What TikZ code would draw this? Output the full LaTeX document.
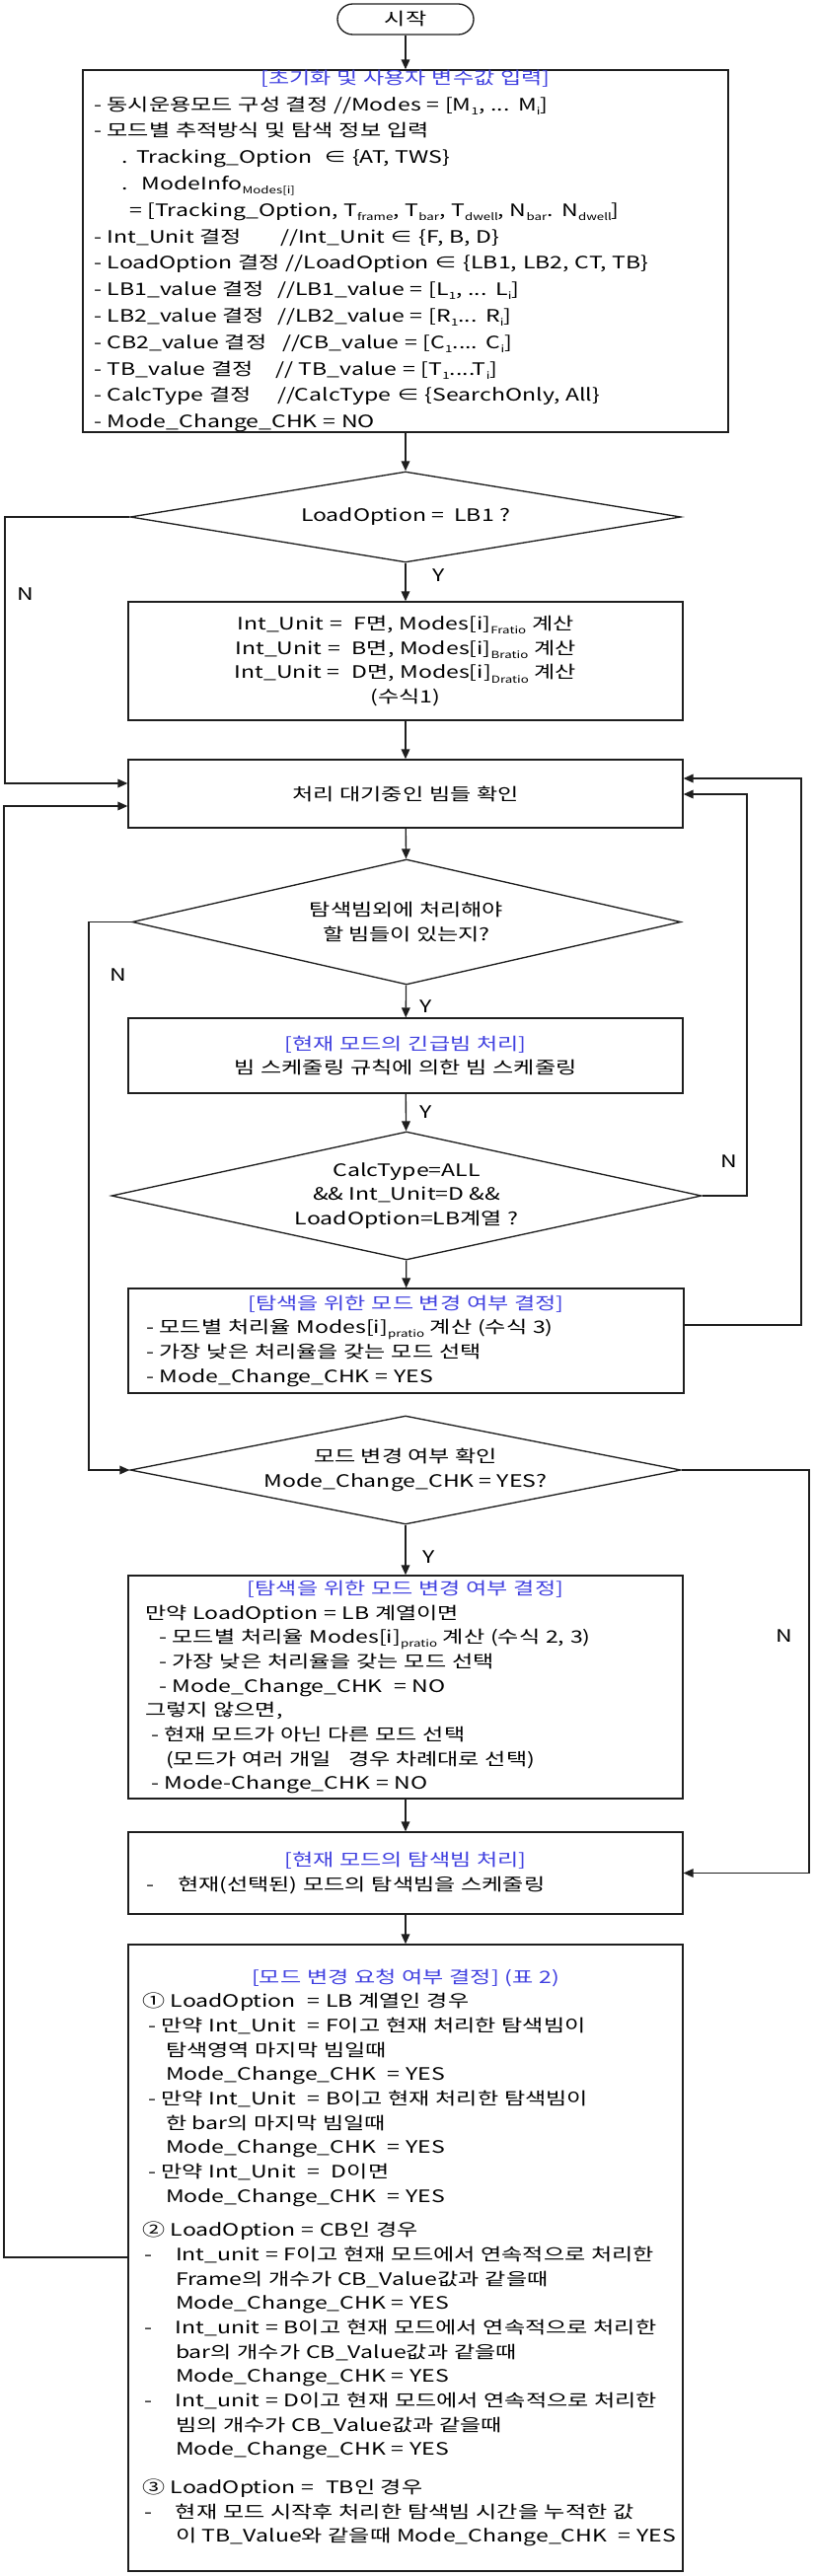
\documentclass[tikz,border=0pt]{standalone}
\usepackage{fontspec}
\setmainfont{Noto Sans CJK KR}[FakeStretch=1.33]
\usetikzlibrary{shapes.geometric,arrows.meta}
\newlength\pu
\setlength\pu{0.75pt}
\newlength\tw
\definecolor{tblue}{RGB}{64,64,224}
\definecolor{lin}{RGB}{30,30,30}
\newcommand\lsb[1]{\raisebox{-0.45ex}{\fontsize{7.5pt}{7.5pt}\selectfont #1}}
\newcommand\ind[1]{\hspace*{#1\pu}}
\newcommand\tabat[2]{\makebox[#1\pu][l]{#2}}
\newcommand\tabw[2]{\makebox[\dimexpr\tw-#1\pu\relax][l]{#2}}
\newcommand\ttlline[2]{\makebox[#1\pu][c]{\color{tblue}#2}}
\newcommand\tline[1]{\mbox{#1}}
\tikzset{
  every node/.style={font=\fontsize{13pt}{18.5pt}\selectfont, text=black},
  box/.style={draw=lin, line width=1pt, rectangle, inner ysep=0pt},
  term/.style={draw=lin, line width=1pt, rounded corners=15.5\pu, minimum width=138\pu, minimum height=31\pu, inner sep=0pt},
  dia/.style={draw=lin, line width=1pt, diamond, inner sep=0pt, align=center},
  arr/.style={draw=lin, line width=1pt, -{Triangle[length=7.5pt,width=6.5pt]}},
  lbl/.style={inner sep=0pt}
}
\begin{document}
\begin{tikzpicture}[x=0.75pt,y=-0.75pt]
\useasboundingbox (0,0) rectangle (827,2611);

\node[term] (start) at (411,19.5) {시작};

\node[box, minimum width=654\pu, minimum height=351\pu, inner xsep=11\pu, text width=632\pu, align=left, font=\fontsize{13pt}{20.1pt}\selectfont\settowidth\tw{- LoadOption 결정 }] (init) at (411,254.5) {%
\ttlline{632}{[초기화 및 사용자 변수값 입력]}\\
\tline{- 동시운용모드 구성 결정 //Modes = [M\lsb{1}, ... M\lsb{i}]}\\
\tline{- 모드별 추적방식 및 탐색 정보 입력}\\
\tline{\ind{28}. Tracking\_Option \ ∈ \{AT, TWS\}}\\
\tline{\ind{28}. \ ModeInfo\lsb{Modes[i]}}\\
\tline{\ind{36}= [Tracking\_Option, T\lsb{frame}, T\lsb{bar}, T\lsb{dwell}, N\lsb{bar}. N\lsb{dwell}]}\\
\tline{\tabw{4}{- Int\_Unit 결정}//Int\_Unit ∈ \{F, B, D\}}\\
\tline{- LoadOption 결정 //LoadOption ∈ \{LB1, LB2, CT, TB\}}\\
\tline{\tabw{7}{- LB1\_value 결정}//LB1\_value = [L\lsb{1}, ... L\lsb{i}]}\\
\tline{\tabw{7}{- LB2\_value 결정}//LB2\_value = [R\lsb{1}... R\lsb{i}]}\\
\tline{\tabw{2}{- CB2\_value 결정}//CB\_value = [C\lsb{1}.... C\lsb{i}]}\\
\tline{\tabw{9}{- TB\_value 결정}// TB\_value = [T\lsb{1}....T\lsb{i}]}\\
\tline{\tabw{7}{- CalcType 결정}//CalcType ∈ \{SearchOnly, All\}}\\
\tline{- Mode\_Change\_CHK = NO}};

\node[dia, minimum width=558\pu, minimum height=92\pu, aspect=6.07] (d1) at (411,524) {LoadOption = \ LB1 ?};

\node[box, minimum width=562\pu, minimum height=120\pu, text width=540\pu, align=center] (ratio) at (411,670) {%
Int\_Unit = \ F면, Modes[i]\lsb{Fratio} 계산\\
Int\_Unit = \ B면, Modes[i]\lsb{Bratio} 계산\\
Int\_Unit = \ D면, Modes[i]\lsb{Dratio} 계산\\
(수식1)};

\node[box, minimum width=562\pu, minimum height=69\pu, text width=540\pu, align=center] (wait) at (411,804.5) {처리 대기중인 빔들 확인};

\node[dia, minimum width=556\pu, minimum height=127\pu, aspect=4.38] (d2) at (412,934.5) {탐색빔외에 처리해야\\할 빔들이 있는지?};

\node[box, minimum width=562\pu, minimum height=76\pu, text width=540\pu, align=center] (urgent) at (411,1070) {%
{\color{tblue}[현재 모드의 긴급빔 처리]}\\
빔 스케줄링 규칙에 의한 빔 스케줄링};

\node[dia, minimum width=598\pu, minimum height=130\pu, aspect=4.6] (d3) at (412,1212) {CalcType=ALL\\\&\& Int\_Unit=D \&\&\\LoadOption=LB계열 ?};

\node[box, minimum width=563\pu, minimum height=106\pu, inner xsep=18\pu, text width=527\pu, align=left] (sel1) at (411.5,1359) {%
\ttlline{527}{[탐색을 위한 모드 변경 여부 결정]}\\
\tline{- 모드별 처리율 Modes[i]\lsb{pratio} 계산 (수식 3)}\\
\tline{- 가장 낮은 처리율을 갖는 모드 선택}\\
\tline{- Mode\_Change\_CHK = YES}};

\node[dia, minimum width=558\pu, minimum height=110\pu, aspect=5.07] (d4) at (411,1490) {모드 변경 여부 확인\\Mode\_Change\_CHK = YES?};

\node[box, minimum width=562\pu, minimum height=226\pu, inner xsep=17\pu, text width=528\pu, align=left] (sel2) at (411,1710) {%
\ttlline{528}{[탐색을 위한 모드 변경 여부 결정]}\\
\tline{만약 LoadOption = LB 계열이면}\\
\tline{\ind{14}- 모드별 처리율 Modes[i]\lsb{pratio} 계산 (수식 2, 3)}\\
\tline{\ind{14}- 가장 낮은 처리율을 갖는 모드 선택}\\
\tline{\ind{14}- Mode\_Change\_CHK \ = NO}\\
\tline{그렇지 않으면,}\\
\tline{\ind{6}- 현재 모드가 아닌 다른 모드 선택}\\
\tline{\ind{21}(모드가 여러 개일 \ \ 경우 차례대로 선택)}\\
\tline{\ind{6}- Mode-Change\_CHK = NO}};

\node[box, minimum width=562\pu, minimum height=83\pu, inner xsep=18\pu, text width=526\pu, align=left] (search) at (411,1898.5) {%
\ttlline{526}{[현재 모드의 탐색빔 처리]}\\
\tline{\tabat{32}{-}현재(선택된) 모드의 탐색빔을 스케줄링}};

\node[box, minimum width=562\pu, minimum height=635\pu, inner xsep=14\pu, text width=534\pu, align=left] (req) at (411,2288.5) {%
\ttlline{534}{[모드 변경 요청 여부 결정] (표 2)}\\
\tline{① LoadOption \ = LB 계열인 경우}\\
\tline{\ind{6}- 만약 Int\_Unit \ = F이고 현재 처리한 탐색빔이}\\
\tline{\ind{24}탐색영역 마지막 빔일때}\\
\tline{\ind{24}Mode\_Change\_CHK \ = YES}\\
\tline{\ind{6}- 만약 Int\_Unit \ = B이고 현재 처리한 탐색빔이}\\
\tline{\ind{24}한 bar의 마지막 빔일때}\\
\tline{\ind{24}Mode\_Change\_CHK \ = YES}\\
\tline{\ind{6}- 만약 Int\_Unit \ = \ D이면}\\
\tline{\ind{24}Mode\_Change\_CHK \ = YES}\\[10\pu]
\tline{② LoadOption = CB인 경우}\\
\tline{\ind{2}\tabat{32}{-}Int\_unit = F이고 현재 모드에서 연속적으로 처리한}\\
\tline{\ind{34}Frame의 개수가 CB\_Value값과 같을때}\\
\tline{\ind{34}Mode\_Change\_CHK = YES}\\
\tline{\ind{2}\tabat{32}{-}Int\_unit = B이고 현재 모드에서 연속적으로 처리한}\\
\tline{\ind{34}bar의 개수가 CB\_Value값과 같을때}\\
\tline{\ind{34}Mode\_Change\_CHK = YES}\\
\tline{\ind{2}\tabat{32}{-}Int\_unit = D이고 현재 모드에서 연속적으로 처리한}\\
\tline{\ind{34}빔의 개수가 CB\_Value값과 같을때}\\
\tline{\ind{34}Mode\_Change\_CHK = YES}\\[14\pu]
\tline{③ LoadOption = \ TB인 경우}\\
\tline{\ind{2}\tabat{32}{-}현재 모드 시작후 처리한 탐색빔 시간을 누적한 값}\\
\tline{\ind{34}이 TB\_Value와 같을때 Mode\_Change\_CHK \ = YES}};

% coordinates for bends
\coordinate (nA) at (5,794);
\coordinate (lp) at (4,817);
\coordinate (lq) at (4,2288);
\coordinate (n2) at (90,934.5);
\coordinate (n3) at (757,805);
\coordinate (n4) at (812,789);
\coordinate (n4b) at (812,1343);
\coordinate (n5) at (820,1898.5);

% main vertical flow
\draw[arr] (start) -- (init);
\draw[arr] (init) -- (d1);
\draw[arr] (d1) -- (ratio);
\draw[arr] (ratio) -- (wait);
\draw[arr] (wait) -- (d2);
\draw[arr] (d2) -- (urgent);
\draw[arr] (urgent) -- (d3);
\draw[arr] (d3) -- (sel1);
\draw[arr] (d4) -- (sel2);
\draw[arr] (sel2) -- (search);
\draw[arr] (search) -- (req);

% branches and loops
\draw[arr] (d1.west) -| (nA) -- (nA -| wait.west);
\draw[arr] (lq -| req.west) -- (lq) -- (lp) -- (lp -| wait.west);
\draw[arr] (d2.west) -- (n2) |- (d4.west);
\draw[arr] (d3.east) -| (n3) -- (n3 -| wait.east);
\draw[arr] (n4b -| sel1.east) -- (n4b) -- (n4) -- (n4 -| wait.east);
\draw[arr] (d4.east) -| (n5) -- (n5 -| search.east);

% labels
\node[lbl] (y1) at (445,583) {Y};
\node[lbl] (nl1) at (26,602) {N};
\node[lbl] (y2) at (432,1020) {Y};
\node[lbl] (nl2) at (120,988) {N};
\node[lbl] (y3) at (432,1127) {Y};
\node[lbl] (nl3) at (739,1177) {N};
\node[lbl] (y4) at (435,1578) {Y};
\node[lbl] (nl4) at (795,1658) {N};
\end{tikzpicture}
\end{document}
